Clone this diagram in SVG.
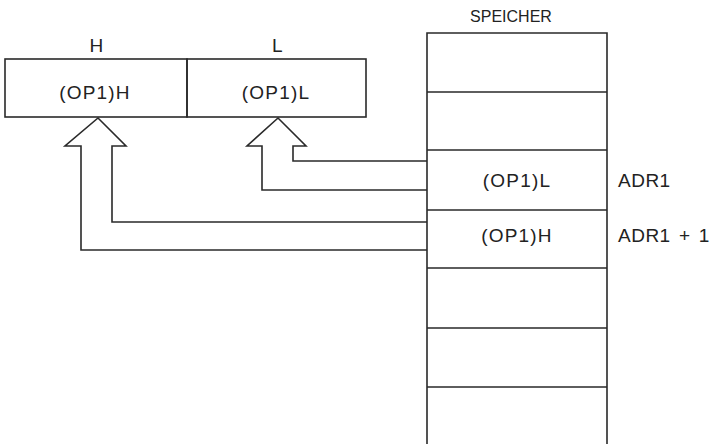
<svg xmlns="http://www.w3.org/2000/svg" width="711" height="444" viewBox="0 0 711 444">
<style>
.ln{fill:none;stroke:#2a2a2a;stroke-width:1.6;stroke-linejoin:miter}
.t{font-family:"Liberation Sans",Arial,sans-serif;font-size:19px;fill:#222;letter-spacing:1.2px}
.a{font-family:"Liberation Sans",Arial,sans-serif;font-size:19px;fill:#222;letter-spacing:0.5px;word-spacing:2.5px}
.s{font-family:"Liberation Sans",Arial,sans-serif;font-size:16px;fill:#222}
.c{text-anchor:middle}
</style>
<rect width="711" height="444" fill="#fff"/>
<g id="register">
<g id="reg-h">
<rect class="ln" x="5" y="59" width="182" height="58"/>
<text class="t c" x="97" y="52">H</text>
<text class="t c" x="95" y="99">(OP1)H</text>
</g>
<g id="reg-l">
<rect class="ln" x="187" y="59" width="179" height="58"/>
<text class="t c" x="278" y="52">L</text>
<text class="t c" x="276" y="99">(OP1)L</text>
</g>
</g>
<g id="memory">
<text class="s c" x="511" y="22">SPEICHER</text>
<path class="ln" d="M427,444 V33 H607 V444"/>
<path class="ln" d="M427,92 H607 M427,150 H607 M427,210 H607 M427,268 H607 M427,328 H607 M427,387 H607"/>
<g id="mem-adr1">
<text class="t c" x="517" y="187">(OP1)L</text>
<text class="a" x="618" y="187">ADR1</text>
</g>
<g id="mem-adr1p1">
<text class="t c" x="517" y="242">(OP1)H</text>
<text class="a" x="618" y="242">ADR1 + 1</text>
</g>
</g>
<g id="connectors">
<path class="ln" d="M427,161 H293 V146 H306 L278,118 L247,146 H262 V190 H427"/>
<path class="ln" d="M427,222 H112 V146 H126 L98,118 L65,146 H81 V250 H427"/>
</g>
</svg>
